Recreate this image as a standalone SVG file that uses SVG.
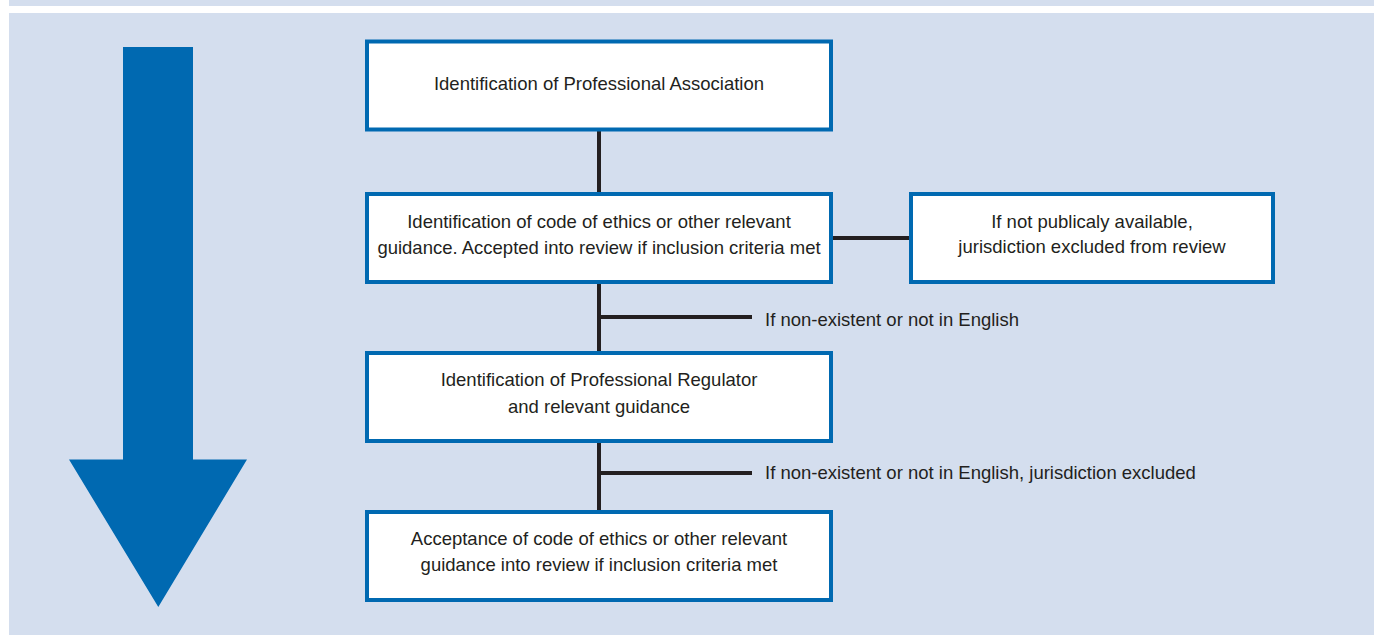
<svg xmlns="http://www.w3.org/2000/svg" width="1374" height="635" viewBox="0 0 1374 635">
  <style>
    .box { fill: #ffffff; stroke: #0069b1; stroke-width: 4; }
    .lbl { font-family: "Liberation Sans", Arial, sans-serif; font-size: 18.5px; fill: #231f20; }
    .mid { text-anchor: middle; }
    .conn { stroke: #231f20; stroke-width: 4; fill: none; }
  </style>
  <rect x="0" y="0" width="1374" height="635" fill="#ffffff"/>
  <rect x="9" y="0" width="1365" height="6" fill="#d4deee"/>
  <rect x="9" y="13" width="1365" height="622" fill="#d4deee"/>
  <g id="big-arrow">
    <polygon points="123,47 193,47 193,459.5 247,459.5 158.3,607 69,459.5 123,459.5" fill="#0069b1"/>
  </g>
  <g id="connectors">
    <line class="conn" x1="599" y1="131" x2="599" y2="512"/>
    <line class="conn" x1="831" y1="238" x2="911" y2="238"/>
    <line class="conn" x1="599" y1="317" x2="752" y2="317"/>
    <line class="conn" x1="599" y1="473" x2="752" y2="473"/>
  </g>
  <g id="label-english">
    <text class="lbl" x="765" y="326">If non-existent or not in English</text>
  </g>
  <g id="label-excluded">
    <text class="lbl" x="765" y="478.5">If non-existent or not in English, jurisdiction excluded</text>
  </g>
  <g id="node-association">
    <rect class="box" x="367" y="41.5" width="464" height="88"/>
    <text class="lbl mid" x="599" y="90">Identification of Professional Association</text>
  </g>
  <g id="node-code">
    <rect class="box" x="367" y="194" width="464" height="88"/>
    <text class="lbl mid" x="599" y="228">Identification of code of ethics or other relevant</text>
    <text class="lbl mid" x="599" y="254">guidance. Accepted into review if inclusion criteria met</text>
  </g>
  <g id="node-not-public">
    <rect class="box" x="911" y="194" width="362" height="88"/>
    <text class="lbl mid" x="1092" y="228">If not publicaly available,</text>
    <text class="lbl mid" x="1092" y="253">jurisdiction excluded from review</text>
  </g>
  <g id="node-regulator">
    <rect class="box" x="367" y="353" width="464" height="88"/>
    <text class="lbl mid" x="599" y="386">Identification of Professional Regulator</text>
    <text class="lbl mid" x="599" y="412.5">and relevant guidance</text>
  </g>
  <g id="node-acceptance">
    <rect class="box" x="367" y="512" width="464" height="88"/>
    <text class="lbl mid" x="599" y="545">Acceptance of code of ethics or other relevant</text>
    <text class="lbl mid" x="599" y="571">guidance into review if inclusion criteria met</text>
  </g>
</svg>
